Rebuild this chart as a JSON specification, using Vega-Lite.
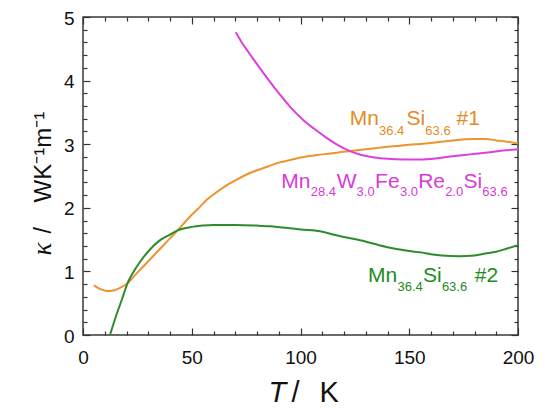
{
  "$schema": "https://vega.github.io/schema/vega-lite/v6.json",
  "width": 435,
  "height": 318,
  "autosize": {"type": "none"},
  "padding": {"left": 83, "top": 17, "right": 29, "bottom": 73},
  "background": "white",
  "config": {
    "view": {"stroke": "#3a3a3a", "strokeWidth": 1.5},
    "axis": {
      "grid": false,
      "domain": false,
      "labelFont": "Liberation Sans",
      "labelFontSize": 19,
      "labelColor": "#111111",
      "tickColor": "#333333",
      "tickWidth": 1.2,
      "titleColor": "#111111",
      "titleFont": "Liberation Sans",
      "titleFontWeight": "normal"
    }
  },
  "datasets": {
    "s1": [
      {"T": 5, "kappa": 0.78}, {"T": 8, "kappa": 0.72}, {"T": 11, "kappa": 0.69}, {"T": 14, "kappa": 0.70},
      {"T": 17, "kappa": 0.74}, {"T": 20.5, "kappa": 0.815}, {"T": 25, "kappa": 0.98}, {"T": 30, "kappa": 1.16},
      {"T": 35, "kappa": 1.34}, {"T": 40, "kappa": 1.52}, {"T": 43.5, "kappa": 1.645}, {"T": 47, "kappa": 1.78},
      {"T": 50, "kappa": 1.89}, {"T": 53, "kappa": 1.99}, {"T": 56.7, "kappa": 2.12}, {"T": 60, "kappa": 2.21},
      {"T": 65, "kappa": 2.33}, {"T": 70, "kappa": 2.43}, {"T": 75, "kappa": 2.52}, {"T": 80, "kappa": 2.59},
      {"T": 85, "kappa": 2.65}, {"T": 90, "kappa": 2.71}, {"T": 95, "kappa": 2.75}, {"T": 100, "kappa": 2.79},
      {"T": 110, "kappa": 2.84}, {"T": 120, "kappa": 2.88}, {"T": 130, "kappa": 2.92}, {"T": 140, "kappa": 2.96},
      {"T": 150, "kappa": 2.99}, {"T": 160, "kappa": 3.02}, {"T": 170, "kappa": 3.06}, {"T": 180, "kappa": 3.08},
      {"T": 185, "kappa": 3.08}, {"T": 190, "kappa": 3.06}, {"T": 195, "kappa": 3.04}, {"T": 200, "kappa": 3.01}
    ],
    "s2": [
      {"T": 70.2, "kappa": 4.76}, {"T": 73, "kappa": 4.60}, {"T": 76, "kappa": 4.45}, {"T": 80, "kappa": 4.26},
      {"T": 84, "kappa": 4.07}, {"T": 88, "kappa": 3.89}, {"T": 92, "kappa": 3.72}, {"T": 96, "kappa": 3.56},
      {"T": 101, "kappa": 3.39}, {"T": 106, "kappa": 3.25}, {"T": 112, "kappa": 3.10}, {"T": 117, "kappa": 2.99},
      {"T": 122.8, "kappa": 2.89}, {"T": 128, "kappa": 2.83}, {"T": 134, "kappa": 2.79}, {"T": 140, "kappa": 2.77},
      {"T": 147, "kappa": 2.76}, {"T": 155, "kappa": 2.76}, {"T": 163, "kappa": 2.78}, {"T": 170, "kappa": 2.81},
      {"T": 178, "kappa": 2.84}, {"T": 186, "kappa": 2.87}, {"T": 193, "kappa": 2.90}, {"T": 200, "kappa": 2.92}
    ],
    "s3": [
      {"T": 12.4, "kappa": 0}, {"T": 15, "kappa": 0.28}, {"T": 18, "kappa": 0.57}, {"T": 20.5, "kappa": 0.815},
      {"T": 23, "kappa": 0.98}, {"T": 26, "kappa": 1.14}, {"T": 30.8, "kappa": 1.345}, {"T": 35, "kappa": 1.48},
      {"T": 40, "kappa": 1.58}, {"T": 43.5, "kappa": 1.645}, {"T": 50, "kappa": 1.70}, {"T": 55, "kappa": 1.72},
      {"T": 60, "kappa": 1.73}, {"T": 70, "kappa": 1.73}, {"T": 80, "kappa": 1.72}, {"T": 86, "kappa": 1.71},
      {"T": 95, "kappa": 1.68}, {"T": 100, "kappa": 1.66}, {"T": 109, "kappa": 1.63}, {"T": 115, "kappa": 1.58},
      {"T": 120, "kappa": 1.54}, {"T": 126, "kappa": 1.50}, {"T": 132, "kappa": 1.45}, {"T": 140, "kappa": 1.38},
      {"T": 150, "kappa": 1.32}, {"T": 155, "kappa": 1.30}, {"T": 160, "kappa": 1.27}, {"T": 165, "kappa": 1.25},
      {"T": 173, "kappa": 1.24}, {"T": 180, "kappa": 1.25}, {"T": 185, "kappa": 1.28}, {"T": 190, "kappa": 1.31},
      {"T": 195, "kappa": 1.36}, {"T": 200, "kappa": 1.41}
    ],
    "labelsMain": [
      {"sample": "Mn36.4Si63.6 #1", "T": 122.6, "kappa": 3.297, "text": "Mn"},
      {"sample": "Mn36.4Si63.6 #1", "T": 148.7, "kappa": 3.297, "text": "Si"},
      {"sample": "Mn36.4Si63.6 #1", "T": 171.7, "kappa": 3.297, "text": "#1"},
      {"sample": "Mn28.4W3.0Fe3.0Re2.0Si63.6", "T": 91.2, "kappa": 2.314, "text": "Mn"},
      {"sample": "Mn28.4W3.0Fe3.0Re2.0Si63.6", "T": 116.7, "kappa": 2.314, "text": "W"},
      {"sample": "Mn28.4W3.0Fe3.0Re2.0Si63.6", "T": 134.3, "kappa": 2.314, "text": "Fe"},
      {"sample": "Mn28.4W3.0Fe3.0Re2.0Si63.6", "T": 154.1, "kappa": 2.314, "text": "Re"},
      {"sample": "Mn28.4W3.0Fe3.0Re2.0Si63.6", "T": 174.9, "kappa": 2.314, "text": "Si"},
      {"sample": "Mn36.4Si63.6 #2", "T": 131.0, "kappa": 0.838, "text": "Mn"},
      {"sample": "Mn36.4Si63.6 #2", "T": 156.3, "kappa": 0.838, "text": "Si"},
      {"sample": "Mn36.4Si63.6 #2", "T": 180.1, "kappa": 0.838, "text": "#2"}
    ],
    "labelsSub": [
      {"sample": "Mn36.4Si63.6 #1", "T": 136.1, "kappa": 3.151, "text": "36.4"},
      {"sample": "Mn36.4Si63.6 #1", "T": 157.4, "kappa": 3.151, "text": "63.6"},
      {"sample": "Mn28.4W3.0Fe3.0Re2.0Si63.6", "T": 104.7, "kappa": 2.182, "text": "28.4"},
      {"sample": "Mn28.4W3.0Fe3.0Re2.0Si63.6", "T": 125.8, "kappa": 2.182, "text": "3.0"},
      {"sample": "Mn28.4W3.0Fe3.0Re2.0Si63.6", "T": 145.7, "kappa": 2.182, "text": "3.0"},
      {"sample": "Mn28.4W3.0Fe3.0Re2.0Si63.6", "T": 166.5, "kappa": 2.182, "text": "2.0"},
      {"sample": "Mn28.4W3.0Fe3.0Re2.0Si63.6", "T": 183.6, "kappa": 2.182, "text": "63.6"},
      {"sample": "Mn36.4Si63.6 #2", "T": 144.6, "kappa": 0.691, "text": "36.4"},
      {"sample": "Mn36.4Si63.6 #2", "T": 165.0, "kappa": 0.691, "text": "63.6"}
    ]
  },
  "resolve": {"axis": {"x": "independent", "y": "independent"}},
  "layer": [
    {
      "data": {"name": "s1"},
      "mark": {"type": "line", "color": "#EB9430", "strokeWidth": 2, "interpolate": "monotone", "clip": true},
      "encoding": {
        "x": {"field": "T", "type": "quantitative", "scale": {"domain": [0, 200], "nice": false, "zero": false},
          "axis": {"orient": "bottom", "values": [0, 50, 100, 150, 200], "tickSize": -7, "labelPadding": 20,
            "labelFlush": false, "labelOverlap": false,
            "title": "T", "titleFontStyle": "italic", "titleFontSize": 29, "titleX": 185, "titleY": 66,
            "titleAlign": "left", "titleBaseline": "alphabetic"}},
        "y": {"field": "kappa", "type": "quantitative", "scale": {"domain": [0, 5], "nice": false, "zero": false},
          "axis": {"orient": "left", "values": [0, 1, 2, 3, 4, 5], "tickSize": -7, "labelPadding": 16,
            "labelFlush": false, "labelOverlap": false, "labelOffset": 1,
            "title": "κ", "titleFont": "Liberation Serif", "titleFontStyle": "italic", "titleFontSize": 27,
            "titleAngle": 270, "titleX": -33, "titleY": 238, "titleAlign": "left", "titleBaseline": "alphabetic"}}
      }
    },
    {
      "data": {"name": "s2"},
      "mark": {"type": "line", "color": "#DD3FDD", "strokeWidth": 2, "interpolate": "monotone", "clip": true},
      "encoding": {
        "x": {"field": "T", "type": "quantitative", "scale": {"domain": [0, 200], "nice": false, "zero": false},
          "axis": {"orient": "bottom", "values": [10, 20, 30, 40, 60, 70, 80, 90, 110, 120, 130, 140, 160, 170, 180, 190],
            "tickSize": -4, "labels": false,
            "title": "/", "titleFontSize": 29, "titleX": 208, "titleY": 66,
            "titleAlign": "left", "titleBaseline": "alphabetic"}},
        "y": {"field": "kappa", "type": "quantitative", "scale": {"domain": [0, 5], "nice": false, "zero": false},
          "axis": {"orient": "left", "values": [0.2, 0.4, 0.6, 0.8, 1.2, 1.4, 1.6, 1.8, 2.2, 2.4, 2.6, 2.8, 3.2, 3.4, 3.6, 3.8, 4.2, 4.4, 4.6, 4.8],
            "tickSize": -4, "labels": false,
            "title": "/", "titleFontSize": 23, "titleAngle": 270, "titleX": -33, "titleY": 216,
            "titleAlign": "left", "titleBaseline": "alphabetic"}}
      }
    },
    {
      "data": {"name": "s3"},
      "mark": {"type": "line", "color": "#2E8B2E", "strokeWidth": 2, "interpolate": "monotone", "clip": true},
      "encoding": {
        "x": {"field": "T", "type": "quantitative", "scale": {"domain": [0, 200], "nice": false, "zero": false},
          "axis": {"orient": "top", "values": [0, 50, 100, 150, 200], "tickSize": -7, "labels": false, "title": null}},
        "y": {"field": "kappa", "type": "quantitative", "scale": {"domain": [0, 5], "nice": false, "zero": false},
          "axis": {"orient": "right", "values": [0, 1, 2, 3, 4, 5], "tickSize": -7, "labels": false, "title": null}}
      }
    },
    {
      "data": {"name": "labelsMain"},
      "mark": {"type": "text", "align": "left", "baseline": "alphabetic", "font": "Liberation Sans", "fontSize": 21},
      "encoding": {
        "x": {"field": "T", "type": "quantitative", "scale": {"domain": [0, 200], "nice": false, "zero": false},
          "axis": {"orient": "top", "values": [10, 20, 30, 40, 60, 70, 80, 90, 110, 120, 130, 140, 160, 170, 180, 190],
            "tickSize": -4, "labels": false, "title": null}},
        "y": {"field": "kappa", "type": "quantitative", "scale": {"domain": [0, 5], "nice": false, "zero": false},
          "axis": {"orient": "right", "values": [0.2, 0.4, 0.6, 0.8, 1.2, 1.4, 1.6, 1.8, 2.2, 2.4, 2.6, 2.8, 3.2, 3.4, 3.6, 3.8, 4.2, 4.4, 4.6, 4.8],
            "tickSize": -4, "labels": false, "title": null}},
        "text": {"field": "text"},
        "color": {"field": "sample", "type": "nominal",
          "scale": {"domain": ["Mn36.4Si63.6 #1", "Mn28.4W3.0Fe3.0Re2.0Si63.6", "Mn36.4Si63.6 #2"],
            "range": ["#E38B25", "#D63CD6", "#228B22"]},
          "legend": null}
      }
    },
    {
      "data": {"name": "labelsSub"},
      "mark": {"type": "text", "align": "left", "baseline": "alphabetic", "font": "Liberation Sans", "fontSize": 13},
      "encoding": {
        "x": {"field": "T", "type": "quantitative", "scale": {"domain": [0, 200], "nice": false, "zero": false},
          "axis": {"orient": "bottom", "ticks": false, "labels": false,
            "title": "K", "titleFontSize": 29, "titleX": 236, "titleY": 66,
            "titleAlign": "left", "titleBaseline": "alphabetic"}},
        "y": {"field": "kappa", "type": "quantitative", "scale": {"domain": [0, 5], "nice": false, "zero": false},
          "axis": {"orient": "left", "ticks": false, "labels": false,
            "title": "WK⁻¹m⁻¹", "titleFontSize": 24, "titleAngle": 270, "titleX": -33, "titleY": 185,
            "titleAlign": "left", "titleBaseline": "alphabetic"}},
        "text": {"field": "text"},
        "color": {"field": "sample", "type": "nominal",
          "scale": {"domain": ["Mn36.4Si63.6 #1", "Mn28.4W3.0Fe3.0Re2.0Si63.6", "Mn36.4Si63.6 #2"],
            "range": ["#E38B25", "#D63CD6", "#228B22"]},
          "legend": null}
      }
    }
  ]
}
